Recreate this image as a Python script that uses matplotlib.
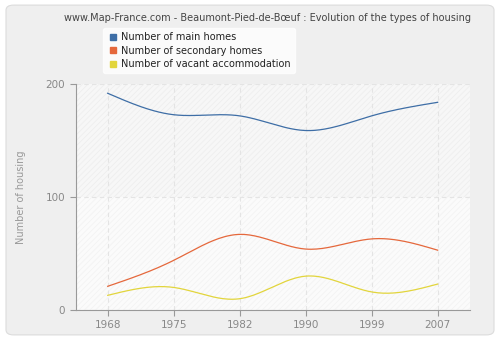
import matplotlib
matplotlib.use('Agg')
import matplotlib.pyplot as plt
import numpy as np
from matplotlib.patches import FancyBboxPatch
from matplotlib.lines import Line2D

years = ['1968', '1975', '1982', '1990', '1999', '2007']
main_homes = [192, 173, 172, 159, 172, 184]
secondary_homes = [21, 44, 67, 54, 63, 53]
vacant = [13, 20, 10, 30, 16, 23]

series_names = ['Number of main homes', 'Number of secondary homes',
                'Number of vacant accommodation']
colors = ['#3e6ea6', '#e5683c', '#e2d53c']

plt.rcParams['hatch.linewidth'] = 0.6


def natural_spline(x, y, n=200):
    # natural cubic spline through the points, for drawing only
    x = np.asarray(x, float)
    y = np.asarray(y, float)
    k = len(x)
    h = np.diff(x)
    A = np.zeros((k, k))
    b = np.zeros(k)
    A[0, 0] = 1
    A[-1, -1] = 1
    for i in range(1, k - 1):
        A[i, i - 1] = h[i - 1]
        A[i, i] = 2 * (h[i - 1] + h[i])
        A[i, i + 1] = h[i]
        b[i] = 3 * ((y[i + 1] - y[i]) / h[i] - (y[i] - y[i - 1]) / h[i - 1])
    c = np.linalg.solve(A, b)
    xs = np.linspace(x[0], x[-1], n)
    ys = np.empty_like(xs)
    for j, xv in enumerate(xs):
        i = min(np.searchsorted(x, xv, side='right') - 1, k - 2)
        d = xv - x[i]
        bi = (y[i + 1] - y[i]) / h[i] - h[i] * (2 * c[i] + c[i + 1]) / 3
        di = (c[i + 1] - c[i]) / (3 * h[i])
        ys[j] = y[i] + bi * d + c[i] * d**2 + di * d**3
    return xs, ys


fig = plt.figure(figsize=(5, 3.4), dpi=100)
fig.patch.set_facecolor('white')
frame = FancyBboxPatch((0.012, 0.015), 0.976, 0.97,
                       boxstyle='round,pad=0,rounding_size=0.015',
                       transform=fig.transFigure, facecolor='#efefef',
                       edgecolor='#dcdcdc', linewidth=0.8, zorder=-10)
fig.patches.append(frame)

ax = fig.add_axes([0.1514, 0.0882, 0.7886, 0.664])
ax.set_zorder(1)
ax.set_facecolor('#fafafa')
ax.set_xlim(-0.485, 5.49)
ax.set_ylim(0, 200)

ax.axhspan(100, 200, facecolor='#f7f7f7', edgecolor='#eeeeee', hatch='//////',
           linewidth=0, zorder=0)
ax.axhspan(0, 100, facecolor='#fbfbfb', edgecolor='#f3f3f3', hatch='//////',
           linewidth=0, zorder=0)

xpos = np.arange(len(years))
for vals, col in zip([main_homes, secondary_homes, vacant], colors):
    xs, ys = natural_spline(xpos, vals)
    ax.plot(xs, ys, color=col, linewidth=0.9, zorder=3)

ax.set_xticks(xpos)
ax.set_xticklabels(years)
ax.set_yticks([0, 100, 200])
ax.grid(True, color='#e4e4e4', linestyle=(0, (4, 3)), linewidth=0.8)
ax.set_axisbelow(True)

for s in ['top', 'right']:
    ax.spines[s].set_visible(False)
for s in ['left', 'bottom']:
    ax.spines[s].set_color('#999999')
ax.tick_params(colors='#999999', labelcolor='#888888', labelsize=7.5,
               length=4, width=0.8)
ax.set_ylabel('Number of housing', color='#999999', fontsize=7, labelpad=14)

fig.text(0.534, 0.948, 'www.Map-France.com - Beaumont-Pied-de-Bœuf : Evolution of the types of housing',
         ha='center', va='center', fontsize=7, color='#444444')

handles = [Line2D([], [], marker='s', linestyle='none', color=c, markersize=4)
           for c in colors]
leg = fig.legend(handles, series_names, loc='upper left',
                 bbox_to_anchor=(0.196, 0.931), fontsize=7, frameon=True,
                 handletextpad=0.3, borderpad=0.4, labelspacing=0.35,
                 handlelength=1.2, fancybox=True)
leg.get_frame().set_facecolor('white')
leg.get_frame().set_edgecolor('white')
leg.set_zorder(5)
for t in leg.get_texts():
    t.set_color('#222222')

fig.savefig('out.png', dpi=100)
